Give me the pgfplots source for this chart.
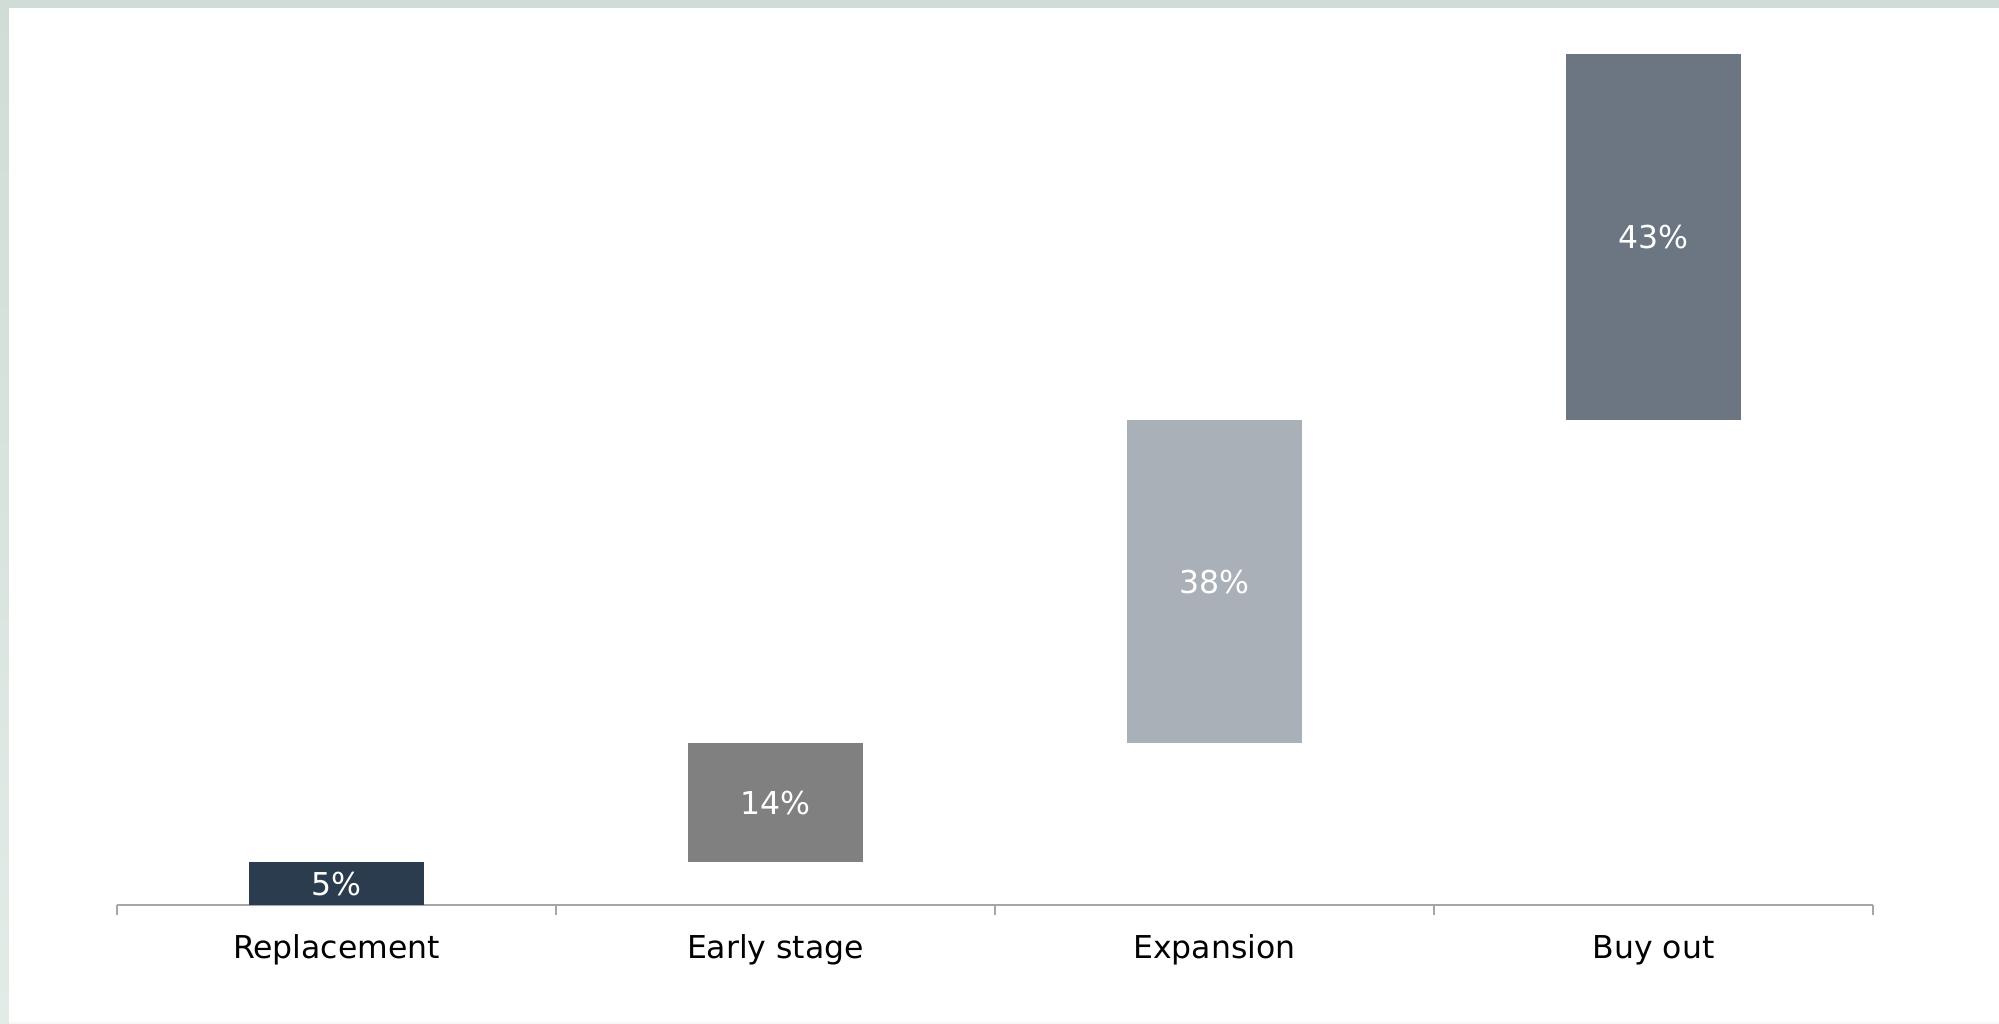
\documentclass[border=0pt]{standalone}
\usepackage{fontspec}
\setmainfont{DejaVu Sans}
\usepackage{pgfplots}
\pgfplotsset{compat=1.18}
\definecolor{cA}{HTML}{2B3C4F}
\definecolor{cB}{HTML}{808080}
\definecolor{cC}{HTML}{AAB0B8}
\definecolor{cD}{HTML}{6B7682}
\definecolor{bgtop}{HTML}{D0DCD6}
\definecolor{bgbot}{HTML}{E3EBE7}
\definecolor{bgline}{HTML}{F6F8F7}
\definecolor{axc}{HTML}{A6A6A6}
\begin{document}
\begin{tikzpicture}
\useasboundingbox (-44.58pt,-45.34pt) rectangle (717.04pt,344.8pt);
\shade[top color=bgtop, bottom color=bgbot] (-44.58pt,-45.34pt) rectangle (717.04pt,344.8pt);
\fill[bgline] (-41.15pt,-45.34pt) rectangle (717.04pt,341.76pt);
\fill[white] (-41.15pt,-44.6pt) rectangle (717.04pt,341.76pt);
\begin{axis}[at={(0,0)}, anchor=south west, scale only axis,
  width=669.04pt, height=324.23pt,
  xmin=-0.5, xmax=3.5, ymin=0, ymax=100,
  ybar stacked, bar width=0.4,
  hide y axis, axis x line*=bottom,
  axis line style={axc, line width=0.76pt},
  xtick={0,1,2,3},
  xticklabels={Replacement, Early stage, Expansion, Buy out},
  major tick length=0pt,
  xticklabel style={anchor=base, yshift=-20.2pt, font=\fontsize{12}{14}\selectfont},
  extra x ticks={-0.5,0.5,1.5,2.5,3.5}, extra x tick labels={},
  extra x tick style={major tick length=3.8pt, tick align=outside, tick style={axc, line width=0.76pt}},
  clip=false]
\addplot[draw=none, fill=none] coordinates {(0,0) (1,5) (2,19) (3,57)};
\addplot[draw=none, fill=cA] coordinates {(0,5) (1,0) (2,0) (3,0)};
\addplot[draw=none, fill=cB] coordinates {(0,0) (1,14) (2,0) (3,0)};
\addplot[draw=none, fill=cC] coordinates {(0,0) (1,0) (2,38) (3,0)};
\addplot[draw=none, fill=cD] coordinates {(0,0) (1,0) (2,0) (3,43)};
\end{axis}
\begin{axis}[at={(0,0)}, anchor=south west, scale only axis,
  width=669.04pt, height=324.23pt,
  xmin=-0.5, xmax=3.5, ymin=0, ymax=100, hide axis, clip=false]
\addplot[draw=none, mark=none, nodes near coords, point meta=explicit symbolic,
  nodes near coords style={anchor=center, text=white, font=\fontsize{12}{14}\selectfont}]
  coordinates {(0,2.5) [5\%] (1,12) [14\%] (2,38) [38\%] (3,78.5) [43\%]};
\end{axis}
\end{tikzpicture}
\end{document}
